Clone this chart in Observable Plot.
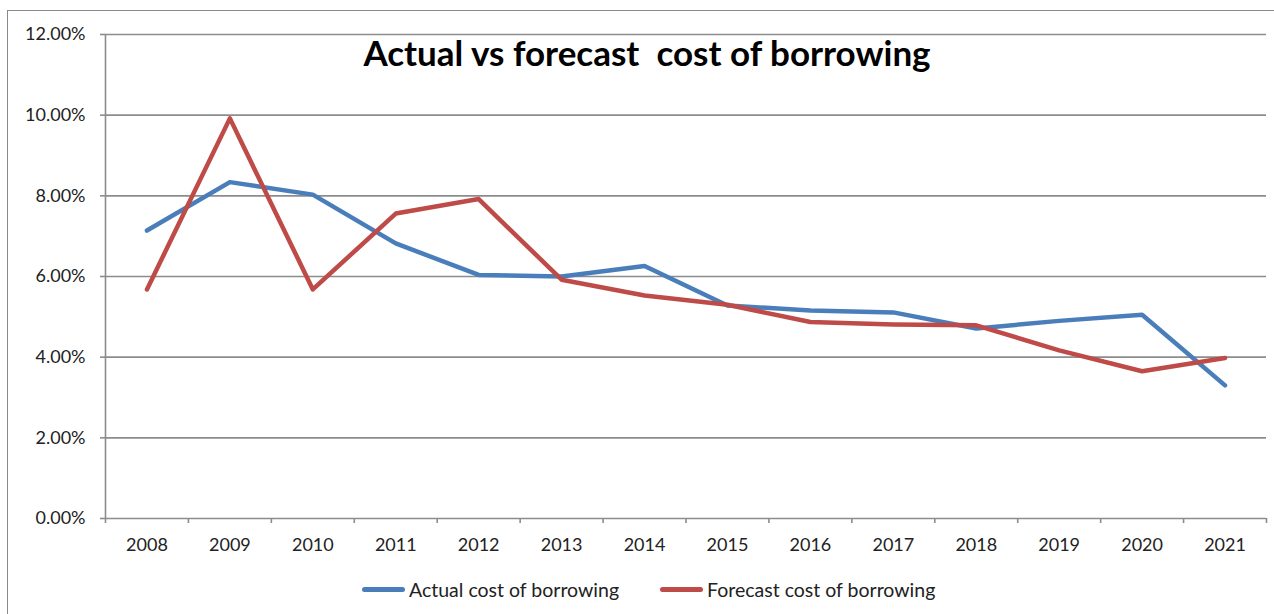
<!DOCTYPE html>
<html>
<head>
<meta charset="utf-8">
<script src="https://cdn.jsdelivr.net/npm/d3@7"></script>
<script src="https://cdn.jsdelivr.net/npm/@observablehq/plot@0.6"></script>
<style>
  html, body { margin: 0; padding: 0; background: #fff; }
  #wrap { position: relative; width: 1274px; height: 614px; overflow: hidden; font-family: Lato, "Open Sans", sans-serif; }
  #border { position: absolute; left: 7px; top: 10px; width: 1300px; height: 700px; border: 1.5px solid #8a8a8a; box-sizing: border-box; }
  #chart { position: absolute; left: 0; top: 0; }
  #title { position: absolute; left: 0; width: 1294px; top: 30px; text-align: center; font-weight: bold; font-size: 35px; line-height: 44px; color: #000; white-space: pre; }
  #legend { position: absolute; top: 578px; left: 0; width: 1274px; font-size: 19.5px; color: #222; }
  .item { position: absolute; display: flex; align-items: center; }
  .swatch { width: 43px; height: 5px; border-radius: 3px; margin-right: 4px; }
</style>
</head>
<body>
<div id="wrap">
  <div id="border"></div>
  <div id="chart"></div>
  <div id="title"></div>
  <div id="legend"></div>
</div>
<script>
const years = [2008, 2009, 2010, 2011, 2012, 2013, 2014, 2015, 2016, 2017, 2018, 2019, 2020, 2021];
const actual = [0.0714, 0.0834, 0.0803, 0.0682, 0.0604, 0.0600, 0.0626, 0.0528, 0.0516, 0.0511, 0.0471, 0.0490, 0.0505, 0.0330];
const forecast = [0.0568, 0.0992, 0.0568, 0.0756, 0.0792, 0.0592, 0.0553, 0.0530, 0.0487, 0.0481, 0.0479, 0.0417, 0.0365, 0.0398];
const yTicks = [0, 0.02, 0.04, 0.06, 0.08, 0.10, 0.12];
const seriesNames = ["Actual cost of borrowing", "Forecast cost of borrowing"];
const seriesColors = ["#4A7EBB", "#BE4B48"];
const titleText = "Actual vs forecast  cost of borrowing";

const data = [];
years.forEach((yr, i) => {
  data.push({year: yr, value: actual[i], series: seriesNames[0]});
  data.push({year: yr, value: forecast[i], series: seriesNames[1]});
});
const bounds = [years[0] - 0.5, ...years.map(y => y + 0.5)];
const gridColor = "#8c8c8c";

const chart = Plot.plot({
  width: 1274,
  height: 570,
  marginLeft: 105,
  marginRight: 8,
  marginTop: 34,
  marginBottom: 52,
  style: { fontFamily: "Lato, 'Open Sans', sans-serif", fontSize: "18px", color: "#222", background: "transparent" },
  x: { type: "linear", domain: [years[0] - 0.5, years[years.length - 1] + 0.5] },
  y: { domain: [0, 0.12] },
  color: { domain: seriesNames, range: seriesColors },
  marks: [
    Plot.ruleY(yTicks, { stroke: gridColor, strokeWidth: 1.6 }),
    Plot.ruleX([years[0] - 0.5], { stroke: gridColor, strokeWidth: 1.6 }),
    Plot.axisY({ ticks: yTicks, tickFormat: d3.format(".2%"), tickSize: 5, tickPadding: 15, stroke: gridColor, strokeWidth: 1.6, fill: "#222", label: null, fontSize: 18 }),
    Plot.axisX({ ticks: bounds, tickFormat: () => "", tickSize: 5, stroke: gridColor, strokeWidth: 1.6, label: null }),
    Plot.axisX({ ticks: years, tickFormat: d => String(d), tickSize: 0, tickPadding: 20, fill: "#222", label: null, fontSize: 18 }),
    Plot.line(data, { x: "year", y: "value", z: "series", stroke: "series", strokeWidth: 4.5, strokeLinejoin: "round", strokeLinecap: "round" })
  ]
});
document.getElementById("chart").appendChild(chart);
document.getElementById("title").textContent = titleText;

const legend = document.getElementById("legend");
const lefts = [362, 660];
seriesNames.forEach((name, i) => {
  const item = document.createElement("div");
  item.className = "item";
  item.style.left = lefts[i] + "px";
  const sw = document.createElement("div");
  sw.className = "swatch";
  sw.style.background = seriesColors[i];
  const t = document.createElement("span");
  t.textContent = name;
  item.appendChild(sw);
  item.appendChild(t);
  legend.appendChild(item);
});
</script>
</body>
</html>
